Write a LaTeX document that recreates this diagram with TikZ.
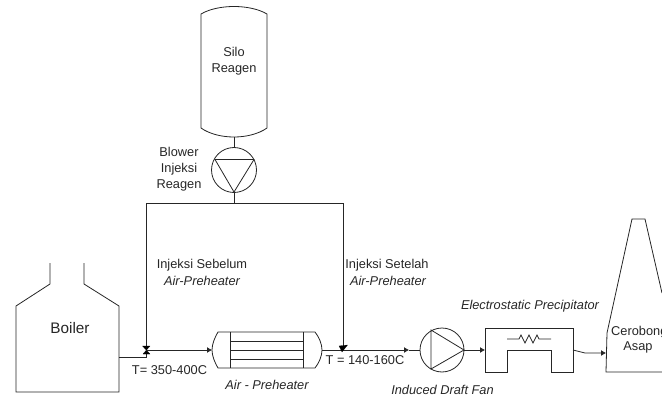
\documentclass[tikz,border=0pt]{standalone}
\usepackage{fontspec}
\setmainfont{Liberation Sans}
\usetikzlibrary{arrows.meta}
\tikzset{
  line/.style={draw=black!85,line width=0.8pt,line join=miter},
  flow/.style={line,-{Latex[length=5pt,width=6pt]}},
  lbl/.style={inner sep=0pt,font=\fontsize{12.8}{15.8}\selectfont,align=center,text=black!85},
  big/.style={lbl,font=\fontsize{15.3}{18}\selectfont},
  it/.style={lbl,font=\fontsize{12.8}{15.8}\itshape\selectfont},
  bow/.style={draw=black,fill=black,line width=0.2pt}
}
\begin{document}
\begin{tikzpicture}[x=1pt,y=-1pt]
\useasboundingbox (0,0) rectangle (662,396);
\clip (0,0) rectangle (662,396);
% silo
\draw[line] (201,14) .. controls (218,4) and (250,4) .. (267,14) -- (267,128) .. controls (250,140) and (218,140) .. (201,128) -- cycle;
\coordinate (siloOut) at (234,137);
\node[lbl] (silo) at (234,61) {Silo\\Reagen};
% blower
\node[line,circle,minimum size=45pt,inner sep=0pt] (blower) at (234,170) {};
\draw[line] (215,159.5) -- (254,159.5) -- (234,192) -- cycle;
\node[lbl] (blowerL) at (179,169) {Blower\\Injeksi\\Reagen};
\coordinate (hdr) at (234,203);
\coordinate (hl) at (146.5,203);
\coordinate (hr) at (343.5,203);
\draw[line] (siloOut) -- (blower.north);
\draw[line] (blower.south) -- (hdr);
\draw[line] (hl) -- (hr);
% boiler
\draw[line] (50,263) -- (50,284) -- (16,306) -- (16,392) -- (119,392) -- (119,306) -- (84,284) -- (84,263);
\node[big] (boiler) at (70,328) {Boiler};
% valves
\coordinate (v1) at (146,350);
\coordinate (v2) at (343.5,350);
\coordinate (boilerOut) at (119,357);
\coordinate (jog) at (146.5,357);
\coordinate (vt1) at (146.5,350);
\draw[line] (boilerOut) -- (jog) -- (vt1);
\draw[line] (hl) -- (vt1);
\draw[bow] (142.5,346) -- (150,346) -- (143,354) -- (150,354) -- cycle;
% APH
\draw[line] (218,332) -- (315,332) .. controls (319,337) and (322,344) .. (322,350) .. controls (322,356) and (319,363) .. (315,368) -- (218,368) .. controls (215,363) and (212,356) .. (212,350) .. controls (212,344) and (215,337) .. (218,332) -- cycle;
\coordinate (aphW) at (212,350);
\coordinate (aphE) at (322,350);
\draw[line] (230,332) -- (230,368) (303,332) -- (303,368);
\draw[line] (230,341) -- (303,341) (230,350) -- (303,350) (230,359) -- (303,359);
\draw[flow] (v1) -- (aphW);
% fan
\node[line,circle,minimum size=44pt,inner sep=0pt] (fan) at (442,350) {};
\draw[line] (431,330) -- (431,369) -- (464,350) -- cycle;
\coordinate (midArrow) at (409,350);
\draw[flow] (aphE) -- (midArrow);
\draw[line] (midArrow) -- (fan.west);
\draw[line] (hr) -- (v2);
\draw[bow] (339,346) -- (347.5,345) -- (342,352) -- cycle;
% ESP
\draw[line] (485,328) -- (573,328) -- (573,372) -- (551,372) -- (551,350) -- (507,350) -- (507,372) -- (485,372) -- cycle;
\draw[line,line width=0.7pt] (507,339) -- (519,339) -- (521,335) -- (525,343) -- (529,335) -- (533,343) -- (537,335) -- (539,339) -- (551,339);
\coordinate (espW) at (485,350);
\coordinate (espE) at (573,350);
\draw[flow] (fan.east) -- (espW);
% stack
\draw[line] (662,293) -- (645,219) -- (632,219) -- (607,333) -- (606,372) -- (662,372);
\coordinate (stackW) at (606,353);
\draw[flow] (espE) -- (585,353) -- (stackW);
\node[lbl,anchor=west] (cer) at (611,332) {Cerobong};
\node[lbl] (asap) at (638,347) {Asap};
% labels
\node[lbl] (n1) at (202,265) {Injeksi Sebelum};
\node[it] (n2) at (202,281) {Air-Preheater};
\node[lbl] (n3) at (387,265) {Injeksi Setelah};
\node[it] (n4) at (388,281) {Air-Preheater};
\node[lbl] (t1) at (169.5,370) {T= 350-400C};
\node[lbl] (t2) at (365,360) {T = 140-160C};
\node[it] (ap) at (267,385) {Air - Preheater};
\node[it] (idf) at (442.5,390) {Induced Draft Fan};
\node[it] (esp) at (530,306.5) {Electrostatic Precipitator};
\end{tikzpicture}
\end{document}
